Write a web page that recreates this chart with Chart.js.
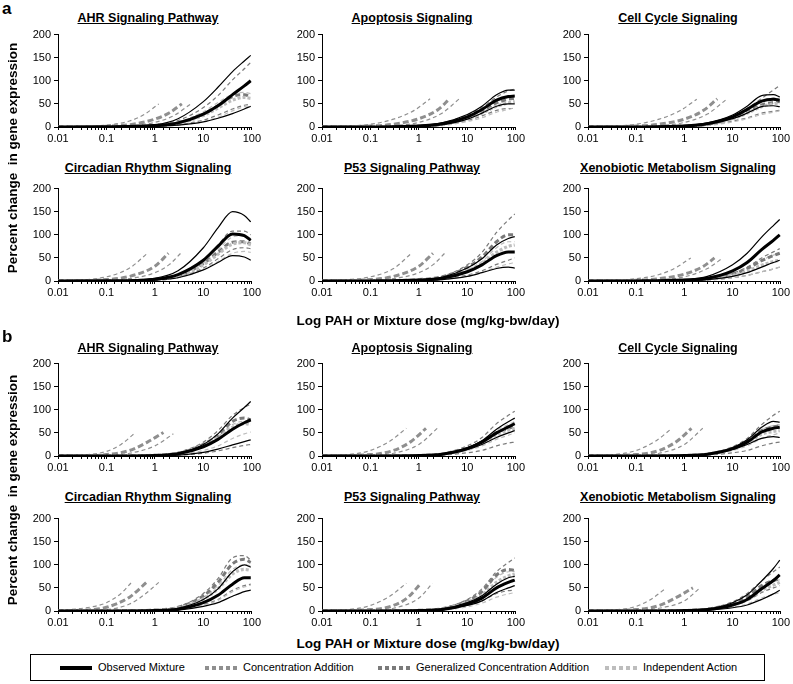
<!DOCTYPE html>
<html><head><meta charset="utf-8">
<script src="https://cdn.jsdelivr.net/npm/chart.js@4.4.1/dist/chart.umd.min.js"></script>
<style>
html,body{margin:0;padding:0;background:#fff;width:793px;height:684px;overflow:hidden;position:relative;font-family:"Liberation Sans",Arial,sans-serif;color:#000}
canvas{position:absolute}
.t{position:absolute;white-space:pre;transform:translate(-50%,-50%)}
.ttl{font-weight:bold;font-size:12.5px;text-decoration:underline}
.big{font-weight:bold;font-size:13.5px}
.lab{position:absolute;font-weight:bold;font-size:17px;line-height:17px}
#legend{position:absolute;left:30px;top:654px;width:733px;height:25px;border:1.5px solid #000}
.li{position:absolute;top:12px;transform:translateY(-50%);font-size:11px;white-space:nowrap}
.sw{position:absolute;top:11px;height:4px;width:32px}
</style></head><body>
<script>
// ---------------- data ----------------
const xTickLabels = ['0.01','0.1','1','10','100'];
const yTickValues = [0,50,100,150,200];
const panelTitles = ['AHR Signaling Pathway','Apoptosis Signaling','Cell Cycle Signaling',
  'Circadian Rhythm Signaling','P53 Signaling Pathway','Xenobiotic Metabolism Signaling'];
const seriesNames = ['Observed Mixture','Concentration Addition','Generalized Concentration Addition','Independent Action'];
// dose grid (mg/kg-bw/day) for observed, GCA and IA curves
const doses = [0.01, 0.1, 1, 3, 10, 20, 40, 70, 95];

const aAHR = {
  obsHi:[0,0.5,5,18,55,86,120,143,155], obsMid:[0,0.3,3,9,28,46,70,89,100], obsLo:[0,0.2,1.5,4,11,19,29,39,45],
  gcaHi:[0,0.5,4,14,42,68,102,126,140], gcaMid:[0,0.3,3,9,28,46,66,70,65], gcaLo:[0,0.2,1.5,5,15,26,39,47,50],
  iaHi:[0,0.4,3.5,11,33,53,71,75,72], iaMid:[0,0.3,3,8,25,41,58,64,62], iaLo:[0,0.2,1,4,12,21,35,44,48],
  caHi:[[0.01,0.3],[0.1,4],[0.3,13],[0.6,27],[1.2,50]],
  caMid:[[0.01,0.1],[0.1,1.5],[0.3,5],[1,17],[2,31],[3.6,50]],
  caLo:[[0.01,0.1],[0.1,1],[0.3,3],[1,10],[2.5,25],[5.5,50]]
};
const aApop = {
  obsHi:[0,0.3,3,9,27,45,70,80,80], obsMid:[0,0.2,2,7,22,38,58,66,67], obsLo:[0,0.2,1.5,5,17,30,45,50,50],
  gcaHi:[0,0.3,3,9,26,42,65,78,82], gcaMid:[0,0.2,2,6,20,34,52,60,62], gcaLo:[0,0.1,1,4,14,24,36,40,40],
  iaHi:[0,0.3,2.5,8,22,36,55,64,68], iaMid:[0,0.2,2,6,18,30,45,52,55], iaLo:[0,0.1,1,3,12,20,32,38,42],
  caHi:[[0.01,0.4],[0.1,6],[0.3,17],[0.8,36],[1.7,61]],
  caMid:[[0.01,0.1],[0.1,2],[0.3,6],[1,18],[2.5,38],[4.3,61]],
  caLo:[[0.01,0.1],[0.1,1],[0.3,3],[1,10],[3,30],[6.8,61]]
};
const aCell = {
  obsHi:[0,0.3,3,9,26,45,68,70,65], obsMid:[0,0.2,2,7,22,38,56,60,58], obsLo:[0,0.2,1.5,6,18,30,44,46,44],
  gcaHi:[0,0.3,2.5,8,24,40,62,80,90], gcaMid:[0,0.2,2,6,20,33,48,53,55], gcaLo:[0,0.1,1,4,13,20,30,34,36],
  iaHi:[0,0.3,2.5,7,21,36,55,63,65], iaMid:[0,0.2,1.8,6,18,30,44,50,52], iaLo:[0,0.1,1,3,11,18,27,32,35],
  caHi:[[0.01,0.4],[0.1,6],[0.3,17],[0.8,35],[1.8,60]],
  caMid:[[0.01,0.1],[0.1,2],[0.3,6],[1,17],[2.5,36],[4.8,61]],
  caLo:[[0.01,0.1],[0.1,1],[0.3,3],[1,10],[3,28],[7.5,60]]
};
const aCirc = {
  obsHi:[0,0.5,6,22,72,115,150,142,128], obsMid:[0,0.3,4,14,45,75,102,98,88], obsLo:[0,0.2,2,7,24,40,55,52,45],
  gcaHi:[0,0.3,4,13,45,78,108,108,100], gcaMid:[0,0.3,3,11,38,62,84,85,80], gcaLo:[0,0.2,2,8,28,48,68,72,70],
  iaHi:[0,0.3,3.5,12,40,68,95,98,92], iaMid:[0,0.2,3,10,35,58,80,83,78], iaLo:[0,0.2,2,7,25,42,60,64,62],
  caHi:[[0.01,0.5],[0.1,9],[0.3,28],[0.7,60]],
  caMid:[[0.01,0.2],[0.1,3],[0.3,10],[1,32],[1.9,60]],
  caLo:[[0.01,0.1],[0.1,1.5],[0.3,5],[1,18],[2,36],[3.4,60]]
};
const aP53 = {
  obsHi:[0,0.3,2.5,8,28,48,78,92,96], obsMid:[0,0.2,2,6,20,35,55,63,63], obsLo:[0,0.1,1,3,10,18,27,30,28],
  gcaHi:[0,0.3,3,10,35,62,105,132,145], gcaMid:[0,0.3,3,9,30,52,85,100,100], gcaLo:[0,0.1,1,4,13,22,36,45,50],
  iaHi:[0,0.2,2,7,24,42,72,85,85], iaMid:[0,0.2,2,6,22,38,62,75,78], iaLo:[0,0.1,1,3,11,19,30,37,40],
  caHi:[[0.01,0.5],[0.1,9],[0.3,27],[0.7,60]],
  caMid:[[0.01,0.2],[0.1,3],[0.3,10],[1,32],[1.95,60]],
  caLo:[[0.01,0.1],[0.1,1.5],[0.3,5],[1,18],[2,36],[3.4,60]]
};
const aXeno = {
  obsHi:[0,0.3,3,10,35,60,95,120,133], obsMid:[0,0.2,2,6,22,40,68,88,100], obsLo:[0,0.1,1,3,10,18,30,40,45],
  gcaHi:[0,0.2,1.5,5,17,30,50,63,70], gcaMid:[0,0.2,1.5,5,15,27,44,55,60], gcaLo:[0,0.1,1,2,7,12,20,26,30],
  iaHi:[0,0.2,1.5,5,15,27,45,56,60], iaMid:[0,0.1,1,4,12,21,34,42,45], iaLo:[0,0.1,0.5,2,7,12,20,26,30],
  caHi:[[0.01,0.3],[0.1,5],[0.3,14],[0.7,30],[1.35,50]],
  caMid:[[0.01,0.1],[0.1,1.5],[0.3,5],[1,15],[2.5,32],[4.2,50]],
  caLo:[[0.01,0.1],[0.1,1],[0.3,3],[1,9],[3,27],[6.3,50]]
};
const bAHR = {
  obsHi:[0,0.2,1.5,6,25,48,82,105,118], obsMid:[0,0.2,1.2,5,20,36,58,72,78], obsLo:[0,0.1,0.5,2,8,15,24,31,35],
  gcaHi:[0,0.3,2,8,30,55,88,105,112], gcaMid:[0,0.2,1.5,6,25,45,75,82,78], gcaLo:[0,0.1,0.5,2,6,11,18,23,25],
  iaHi:[0,0.2,1.5,6,23,42,68,75,72], iaMid:[0,0.2,1.5,6,22,40,62,70,68], iaLo:[0,0.1,1,3,12,22,38,48,52],
  caHi:[[0.01,0.5],[0.05,4],[0.1,10],[0.2,25],[0.38,49]],
  caMid:[[0.01,0.2],[0.05,1],[0.1,3],[0.3,12],[0.7,30],[1.5,51]],
  caLo:[[0.01,0.1],[0.1,1.5],[0.3,6],[1,22],[2.4,48]]
};
const bApop = {
  obsHi:[0,0.1,1,4,18,33,58,74,82], obsMid:[0,0.1,1,4,16,30,50,63,70], obsLo:[0,0.1,1,3,14,25,40,50,55],
  gcaHi:[0,0.2,1.5,6,22,40,70,88,97], gcaMid:[0,0.1,1,4,16,30,50,60,64], gcaLo:[0,0.1,0.5,2,7,12,22,28,30],
  iaHi:[0,0.1,1,4,18,33,56,68,75], iaMid:[0,0.1,1,4,15,28,46,56,60], iaLo:[0,0.1,1,3,12,22,36,45,50],
  caHi:[[0.01,0.5],[0.05,5],[0.1,12],[0.25,32],[0.55,60]],
  caMid:[[0.01,0.2],[0.1,3],[0.3,12],[0.7,32],[1.4,60]],
  caLo:[[0.01,0.1],[0.1,1.5],[0.3,6],[1,25],[2.4,60]]
};
const bCell = {
  obsHi:[0,0.1,1,4,18,35,62,75,73], obsMid:[0,0.1,1,4,16,30,52,60,62], obsLo:[0,0.1,1,3,14,25,38,42,40],
  gcaHi:[0,0.2,1.5,5,20,38,68,88,97], gcaMid:[0,0.1,1,4,17,32,55,63,65], gcaLo:[0,0.1,0.5,2,7,12,22,28,30],
  iaHi:[0,0.1,1,4,17,32,57,66,68], iaMid:[0,0.1,1,4,15,28,47,53,55], iaLo:[0,0.1,1,3,12,22,38,46,50],
  caHi:[[0.01,0.5],[0.05,5],[0.1,12],[0.25,32],[0.55,60]],
  caMid:[[0.01,0.2],[0.1,3],[0.3,12],[0.7,32],[1.4,60]],
  caLo:[[0.01,0.1],[0.1,1.5],[0.3,6],[1,25],[2.4,60]]
};
const bCirc = {
  obsHi:[0,0.2,1.5,6,25,48,85,100,95], obsMid:[0,0.1,1,4,18,34,58,72,72], obsLo:[0,0.1,0.5,2,10,18,32,42,45],
  gcaHi:[0,0.3,2,9,38,70,115,120,110], gcaMid:[0,0.2,2,8,33,62,102,112,105], gcaLo:[0,0.1,1,3,14,25,45,55,58],
  iaHi:[0,0.2,2,7,30,55,90,100,98], iaMid:[0,0.2,1.5,6,26,48,80,90,88], iaLo:[0,0.1,1,3,13,23,42,52,56],
  caHi:[[0.01,1],[0.05,9],[0.1,18],[0.2,38],[0.33,62]],
  caMid:[[0.01,0.3],[0.05,3],[0.1,8],[0.3,30],[0.67,62]],
  caLo:[[0.01,0.1],[0.1,3],[0.3,15],[0.6,35],[1.2,62]]
};
const bP53 = {
  obsHi:[0,0.1,1,4,18,33,58,72,75], obsMid:[0,0.1,1,3,15,28,50,62,67], obsLo:[0,0.1,1,3,12,22,40,50,55],
  gcaHi:[0,0.2,1.5,6,25,48,85,105,115], gcaMid:[0,0.2,1.5,5,22,42,78,90,88], gcaLo:[0,0.1,1,3,12,22,38,44,45],
  iaHi:[0,0.2,1.5,5,21,40,73,85,86], iaMid:[0,0.1,1,4,18,34,62,76,80], iaLo:[0,0.1,0.5,2,9,17,30,37,40],
  caHi:[[0.01,0.5],[0.05,5],[0.1,12],[0.25,32],[0.55,60]],
  caMid:[[0.01,0.2],[0.1,3],[0.3,12],[0.6,30],[1.1,60]],
  caLo:[[0.01,0.1],[0.1,1.5],[0.3,6],[1,28],[1.9,60]]
};
const bXeno = {
  obsHi:[0,0.1,1,4,18,35,65,92,110], obsMid:[0,0.1,1,3,13,25,48,66,78], obsLo:[0,0.1,0.5,2,7,13,25,37,45],
  gcaHi:[0,0.2,1.5,5,20,38,65,85,95], gcaMid:[0,0.1,1,4,16,30,55,66,70], gcaLo:[0,0.1,1,3,12,22,40,50,55],
  iaHi:[0,0.1,1,4,15,28,52,63,68], iaMid:[0,0.1,1,3,13,24,45,56,62], iaLo:[0,0.1,0.5,2,8,15,28,36,40],
  caHi:[[0.01,0.5],[0.05,4],[0.1,10],[0.2,25],[0.42,50]],
  caMid:[[0.01,0.2],[0.1,3],[0.3,12],[0.7,30],[1.5,50]],
  caLo:[[0.01,0.1],[0.1,1.5],[0.3,6],[1,22],[2.1,50]]
};
const panels = [aAHR,aApop,aCell,aCirc,aP53,aXeno,bAHR,bApop,bCell,bCirc,bP53,bXeno];

// ---------------- layout & style ----------------
const FONT = '"Liberation Sans", Arial, sans-serif';
const colLeft = [58, 322, 588];
const rowTop = [33, 187, 362, 517];
const titleY = [18, 168, 348, 497];
const plotW = 194, plotH = 94;
const YW = 40, PT = 8, PR = 11, XH = 21;
const C_OBS = '#000000', C_CA = '#8f8f8f', C_GCA = '#7a7a7a', C_IA = '#bdbdbd';

function addText(cls, txt, x, y, extra) {
  const d = document.createElement('div');
  d.className = 't ' + cls; d.textContent = txt;
  d.style.left = x + 'px'; d.style.top = y + 'px';
  if (extra) d.style.transform = extra;
  document.body.appendChild(d);
  return d;
}

function line(pts, color, w, dash) {
  return {data: pts, borderColor: color, borderWidth: w, borderDash: dash, pointRadius: 0,
    fill: false, cubicInterpolationMode: 'monotone', borderCapStyle: 'butt', borderJoinStyle: 'round'};
}
const onGrid = arr => doses.map((d, i) => ({x: d, y: arr[i]}));
const fromPairs = arr => arr.map(([x, y]) => ({x, y}));

function buildDatasets(p) {
  return [
    line(onGrid(p.obsMid), C_OBS, 3, []),
    line(onGrid(p.obsHi), C_OBS, 1.2, []),
    line(onGrid(p.obsLo), C_OBS, 1.2, []),
    line(onGrid(p.iaMid), C_IA, 3.2, [3, 2]),
    line(onGrid(p.gcaMid), C_GCA, 3, [5, 3]),
    line(fromPairs(p.caMid), C_CA, 3, [6, 3]),
    line(onGrid(p.iaHi), C_IA, 1.2, [4, 3]),
    line(onGrid(p.iaLo), C_IA, 1.2, [4, 3]),
    line(onGrid(p.gcaHi), C_GCA, 1.2, [4, 3]),
    line(onGrid(p.gcaLo), C_GCA, 1.2, [4, 3]),
    line(fromPairs(p.caHi), C_CA, 1.2, [4, 3]),
    line(fromPairs(p.caLo), C_CA, 1.2, [4, 3])
  ];
}

panels.forEach((p, i) => {
  const c = i % 3, r = Math.floor(i / 3);
  const cv = document.createElement('canvas');
  const pr = (c === 2 ? PR - 1 : PR);
  const w = YW + plotW + pr, h = PT + plotH + XH;
  cv.width = w; cv.height = h;
  cv.style.width = w + 'px'; cv.style.height = h + 'px';
  cv.style.left = (colLeft[c] - YW) + 'px'; cv.style.top = (rowTop[r] - PT) + 'px';
  document.body.appendChild(cv);
  new Chart(cv, {
    type: 'line',
    data: {datasets: buildDatasets(p)},
    options: {
      responsive: false, animation: false, events: [], devicePixelRatio: 1,
      layout: {padding: {top: PT, right: pr, left: 0, bottom: 0}},
      plugins: {legend: {display: false}, tooltip: {enabled: false}, title: {display: false}},
      scales: {
        x: {
          type: 'logarithmic', min: 0.01, max: 100,
          afterFit(s) { s.height = XH; },
          ticks: {autoSkip: false, maxRotation: 0, minRotation: 0, padding: 2, color: '#000',
            font: {family: FONT, size: 11},
            callback(v) {
              const e = Math.log10(v), k = Math.round(e);
              if (Math.abs(e - k) < 1e-6 && k >= -2 && k <= 2) return xTickLabels[k + 2];
              return '';
            }},
          grid: {display: true, drawOnChartArea: false, drawTicks: true, tickLength: 3, color: '#000', lineWidth: 1},
          border: {display: true, color: '#000', width: 1}
        },
        y: {
          min: 0, max: 200,
          afterFit(s) { s.width = YW; },
          afterBuildTicks(s) { s.ticks = yTickValues.map(v => ({value: v})); },
          ticks: {padding: 3, color: '#000', font: {family: FONT, size: 11}},
          grid: {display: true, drawOnChartArea: false, drawTicks: true, tickLength: 4, color: '#000', lineWidth: 1},
          border: {display: true, color: '#000', width: 1}
        }
      }
    }
  });
  addText('ttl', panelTitles[i % 6], colLeft[c] + plotW / 2 - 7, titleY[r]);
});

// panel letters
const la = document.createElement('div'); la.className = 'lab'; la.textContent = 'a';
la.style.left = '2px'; la.style.top = '0px'; document.body.appendChild(la);
const lb = document.createElement('div'); lb.className = 'lab'; lb.textContent = 'b';
lb.style.left = '2px'; lb.style.top = '328px'; document.body.appendChild(lb);

// axis titles
const yTitle = 'Percent change  in gene expression';
addText('big', yTitle, 12, 158, 'translate(-50%,-50%) rotate(-90deg)');
addText('big', yTitle, 12, 490, 'translate(-50%,-50%) rotate(-90deg)');
const xTitle = 'Log PAH or Mixture dose (mg/kg-bw/day)';
addText('big', xTitle, 428, 320);
addText('big', xTitle, 428, 643);

// legend
const lg = document.createElement('div'); lg.id = 'legend'; document.body.appendChild(lg);
const swStyles = [
  'background:#000;height:4px',
  'background:repeating-linear-gradient(90deg,' + C_CA + ' 0 4px,transparent 4px 7px)',
  'background:repeating-linear-gradient(90deg,' + C_GCA + ' 0 4px,transparent 4px 7px)',
  'background:repeating-linear-gradient(90deg,' + C_IA + ' 0 4px,transparent 4px 7px)'
];
const swX = [29, 174, 347, 574];
seriesNames.forEach((n, k) => {
  const s = document.createElement('div'); s.className = 'sw';
  s.style.cssText = swStyles[k]; s.style.left = swX[k] + 'px';
  lg.appendChild(s);
  const t = document.createElement('div'); t.className = 'li'; t.textContent = n;
  t.style.left = (swX[k] + 38) + 'px';
  lg.appendChild(t);
});
</script>
</body></html>
